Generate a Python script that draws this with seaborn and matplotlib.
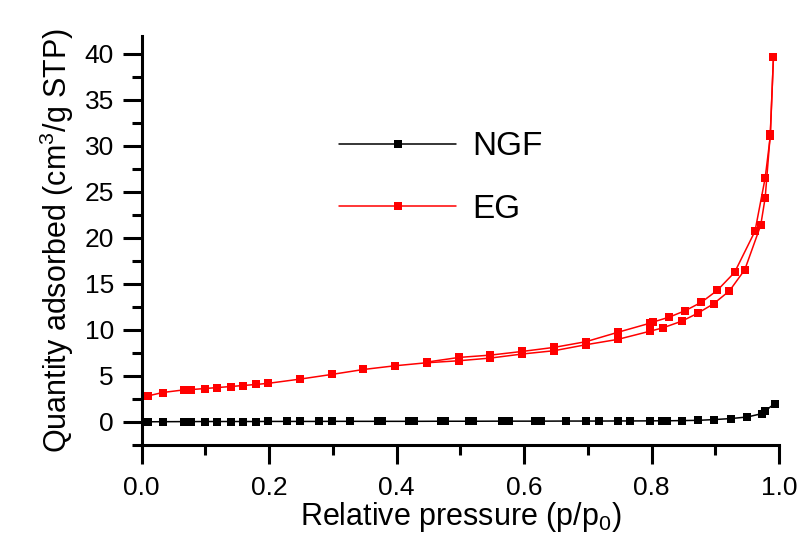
import numpy as np
import pandas as pd
import matplotlib
matplotlib.use("Agg")
import matplotlib.pyplot as plt
import seaborn as sns
from matplotlib.ticker import MultipleLocator

# ---- data ----
eg_ads_p = [0.010, 0.033, 0.067, 0.078, 0.099, 0.119, 0.140, 0.159, 0.179, 0.199,
            0.248, 0.298, 0.348, 0.397, 0.447, 0.498, 0.547, 0.597, 0.647, 0.697,
            0.747, 0.797, 0.817, 0.847, 0.872, 0.897, 0.922, 0.946, 0.971, 0.978,
            0.986, 0.991]
eg_ads_q = [2.83, 3.20, 3.49, 3.52, 3.63, 3.74, 3.85, 3.96, 4.07, 4.20,
            4.65, 5.16, 5.70, 6.10, 6.43, 6.65, 6.94, 7.38, 7.74, 8.39,
            8.97, 9.85, 10.21, 10.94, 11.80, 12.83, 14.24, 16.53, 21.36, 24.34,
            31.25, 39.64]
eg_des_p = [0.991, 0.986, 0.978, 0.962, 0.930, 0.903, 0.878, 0.853, 0.827, 0.802,
            0.797, 0.747, 0.697, 0.647, 0.597, 0.547, 0.498, 0.447]
eg_des_q = [39.64, 31.0, 26.5, 20.71, 16.24, 14.30, 13.00, 12.10, 11.37, 10.85,
            10.72, 9.74, 8.72, 8.10, 7.66, 7.26, 7.01, 6.50]
ngf_p = [0.010, 0.033, 0.067, 0.078, 0.099, 0.119, 0.140, 0.159, 0.179, 0.199,
         0.228, 0.248, 0.278, 0.298, 0.327, 0.370, 0.377, 0.419, 0.427, 0.469,
         0.476, 0.513, 0.520, 0.565, 0.576, 0.617, 0.627, 0.666, 0.697, 0.717,
         0.747, 0.766, 0.797, 0.816, 0.824, 0.848, 0.873, 0.898, 0.924, 0.950,
         0.973, 0.978, 0.993]
ngf_q = [0.02, 0.03, 0.04, 0.04, 0.05, 0.05, 0.05, 0.05, 0.05, 0.06,
         0.06, 0.06, 0.06, 0.07, 0.07, 0.07, 0.07, 0.07, 0.07, 0.08,
         0.08, 0.08, 0.08, 0.09, 0.09, 0.09, 0.09, 0.10, 0.10, 0.10,
         0.11, 0.11, 0.12, 0.13, 0.13, 0.15, 0.18, 0.26, 0.37, 0.54,
         0.91, 1.20, 2.00]

sns.set_style("ticks")
plt.rcParams['font.family'] = ['Liberation Sans', 'DejaVu Sans']
plt.rcParams['mathtext.fontset'] = 'custom'
plt.rcParams['mathtext.rm'] = 'Liberation Sans'
plt.rcParams['mathtext.it'] = 'Liberation Sans'
for k in ['text.color', 'axes.labelcolor', 'xtick.color', 'ytick.color', 'axes.edgecolor']:
    plt.rcParams[k] = 'black'

fig = plt.figure(figsize=(8.0, 5.39), dpi=100)
ax = fig.add_axes([0.177, 0.1744, 0.797, 0.7586])

mk = dict(marker='s', markersize=5.8, linewidth=1.1, markeredgewidth=0,
          sort=False, estimator=None)
sns.lineplot(x=ngf_p, y=ngf_q, color='black', ax=ax, label='NGF', **mk)
sns.lineplot(x=eg_ads_p, y=eg_ads_q, color='red', ax=ax, label='EG', **mk)
sns.lineplot(x=eg_des_p, y=eg_des_q, color='red', ax=ax, **mk)

ax.set_xlim(0, 1.0)
ax.set_ylim(-2.5, 41.9)
ax.xaxis.set_minor_locator(MultipleLocator(0.1))
ax.yaxis.set_minor_locator(MultipleLocator(2.5))
ax.set_xticks([0, 0.2, 0.4, 0.6, 0.8, 1.0])
ax.set_xticklabels(['0.0', '0.2', '0.4', '0.6', '0.8', '1.0'])
ax.set_yticks([0, 5, 10, 15, 20, 25, 30, 35, 40])

for s in ['top', 'right']:
    ax.spines[s].set_visible(False)
for s in ['left', 'bottom']:
    ax.spines[s].set_linewidth(2.2)
    ax.spines[s].set_color('black')
ax.tick_params(which='major', direction='out', length=14, width=2.2, labelsize=19, colors='black')
ax.tick_params(which='minor', direction='out', length=7, width=2.2, colors='black')
ax.tick_params(axis='x', pad=8)
ax.tick_params(axis='y', pad=6)

ax.set_xlabel('Relative pressure (p/p$_0$)', fontsize=22, labelpad=0, color='black')
ax.set_ylabel('Quantity adsorbed (cm$^{3}$/g STP)', fontsize=22, labelpad=6, color='black')

leg = ax.legend(loc='upper left', bbox_to_anchor=(0.31, 0.767), frameon=False,
                fontsize=24, handlelength=3.5, numpoints=1, labelspacing=0.95,
                handletextpad=0.5, borderpad=0, borderaxespad=0)
for t in leg.get_texts():
    t.set_color('black')

fig.savefig('out.png', dpi=100)
